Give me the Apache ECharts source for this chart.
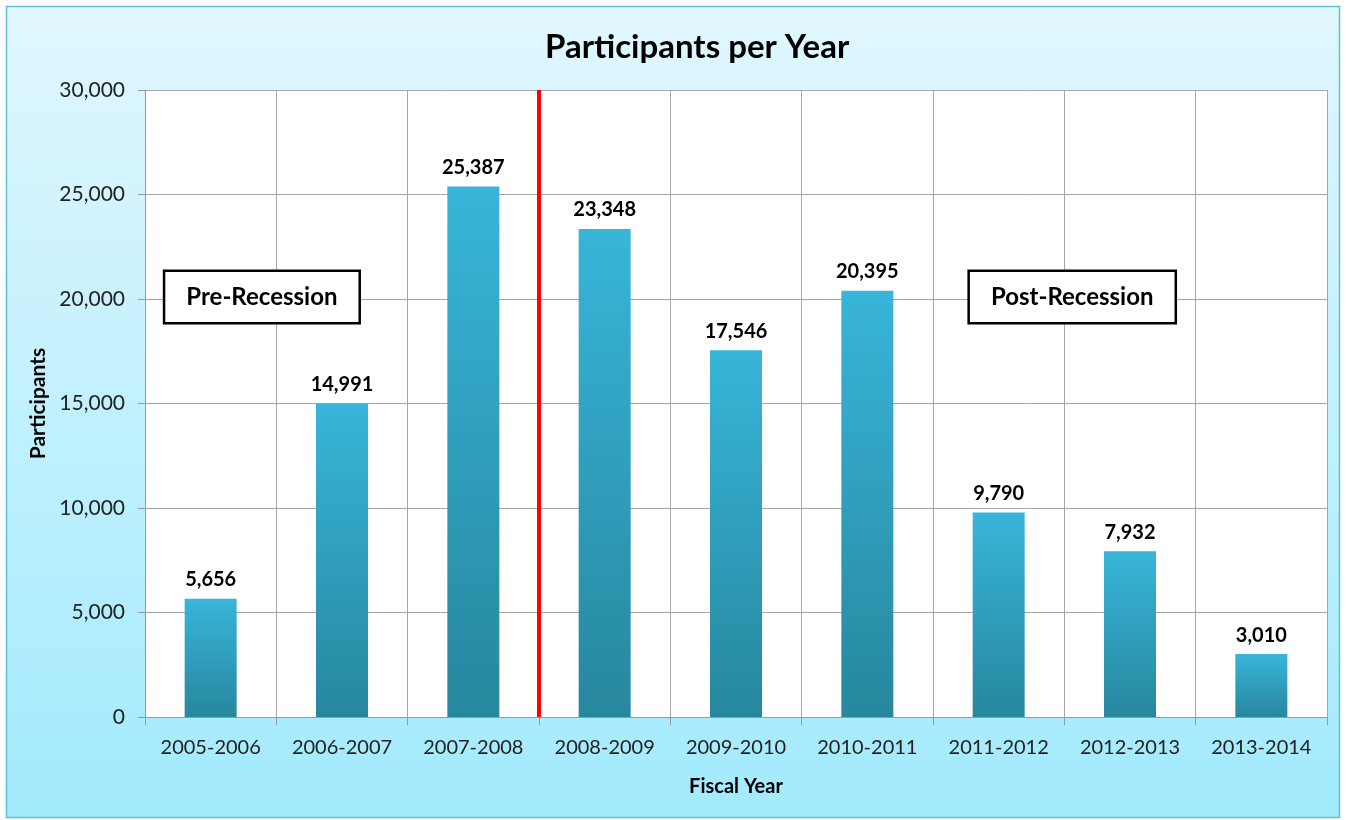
<!DOCTYPE html>
<html><head><meta charset="utf-8">
<script src="https://cdn.jsdelivr.net/npm/echarts@6/dist/echarts.min.js"></script>
<style>html,body{margin:0;padding:0;background:#fff;}#c{width:1346px;height:820px;}</style>
</head><body><div id="c"></div>
<script>
const categories = ['2005-2006','2006-2007','2007-2008','2008-2009','2009-2010','2010-2011','2011-2012','2012-2013','2013-2014'];
const participants = [5656, 14991, 25387, 23348, 17546, 20395, 9790, 7932, 3010];
const yTicks = {min: 0, max: 30000, interval: 5000};
const dividerPosition = 3; // boundary between 2007-2008 and 2008-2009
const annotations = [
  {name: 'Pre-Recession', x: 0.89, y: 20100},
  {name: 'Post-Recession', x: 7.06, y: 20100}
];

const FONT = 'Lato, "Open Sans", sans-serif';
const chart = echarts.init(document.getElementById('c'));
const fmt = v => v.toLocaleString('en-US');

const bgRect = {
  type: 'rect', z: -100, silent: true,
  shape: {x: 6.5, y: 6.5, width: 1333, height: 811},
  style: {
    fill: new echarts.graphic.LinearGradient(0, 0, 0, 1, [
      {offset: 0, color: '#e1f7fd'},
      {offset: 1, color: '#a2eafd'}
    ]),
    stroke: '#5fbfd3', lineWidth: 1.5
  }
};

chart.setOption({
  backgroundColor: '#ffffff',
  animation: false,
  graphic: [bgRect],
  title: {
    text: 'Participants per Year', left: 540, top: 26,
    textStyle: {fontFamily: FONT, fontWeight: 'bold', fontSize: 33, color: '#000'}
  },
  grid: {left: 145, right: 19, top: 90, bottom: 103, show: true, backgroundColor: '#ffffff', borderWidth: 0},
  xAxis: [{
    type: 'category', data: categories, boundaryGap: true,
    axisLine: {lineStyle: {color: '#9a9a9a', width: 1}},
    axisTick: {show: true, length: 8, lineStyle: {color: '#9a9a9a'}},
    splitLine: {show: true, lineStyle: {color: '#a6a6a6', width: 1}},
    axisLabel: {fontFamily: FONT, fontSize: 20, color: '#222', margin: 21},
    name: 'Fiscal Year', nameLocation: 'middle', nameGap: 60,
    nameTextStyle: {fontFamily: FONT, fontWeight: 'bold', fontSize: 20, color: '#000'}
  }, {
    type: 'value', min: 0, max: 9, show: false
  }],
  yAxis: {
    type: 'value', min: yTicks.min, max: yTicks.max, interval: yTicks.interval,
    axisLine: {show: true, lineStyle: {color: '#9a9a9a', width: 1}},
    axisTick: {show: true, length: 7, lineStyle: {color: '#9a9a9a'}},
    splitLine: {show: true, lineStyle: {color: '#a6a6a6', width: 1}},
    axisLabel: {fontFamily: FONT, fontSize: 21, color: '#222', margin: 20, formatter: v => fmt(v)},
    name: 'Participants', nameLocation: 'middle', nameGap: 95, nameRotate: 90,
    nameTextStyle: {fontFamily: FONT, fontWeight: 'bold', fontSize: 21, color: '#000'}
  },
  series: [{
    type: 'bar', data: participants, barWidth: 52, xAxisIndex: 0,
    itemStyle: {
      color: new echarts.graphic.LinearGradient(0, 0, 0, 1, [
        {offset: 0, color: '#38b5d9'},
        {offset: 1, color: '#27879e'}
      ])
    },
    label: {
      show: true, position: 'top', distance: 9,
      fontFamily: FONT, fontWeight: 'bold', fontSize: 20, color: '#000',
      formatter: p => fmt(p.value)
    }
  }, {
    type: 'line', xAxisIndex: 1, yAxisIndex: 0, symbol: 'none', z: 5,
    data: [[dividerPosition, yTicks.min], [dividerPosition, yTicks.max]],
    lineStyle: {color: '#ff0000', width: 4}
  }]
});

// Annotation boxes anchored through the chart's own scales
const boxes = annotations.map(a => {
  const p = chart.convertToPixel({xAxisIndex: 1, yAxisIndex: 0}, [a.x, a.y]);
  return {
    type: 'text', z: 50, silent: true,
    x: p[0], y: p[1],
    style: {
      text: a.name, fill: '#000',
      font: 'bold 24px ' + FONT,
      align: 'center', verticalAlign: 'middle',
      backgroundColor: '#fff', borderColor: '#000', borderWidth: 2.5,
      padding: [13, 21, 13, 21]
    }
  };
});
chart.setOption({graphic: [bgRect].concat(boxes)});
</script></body></html>
